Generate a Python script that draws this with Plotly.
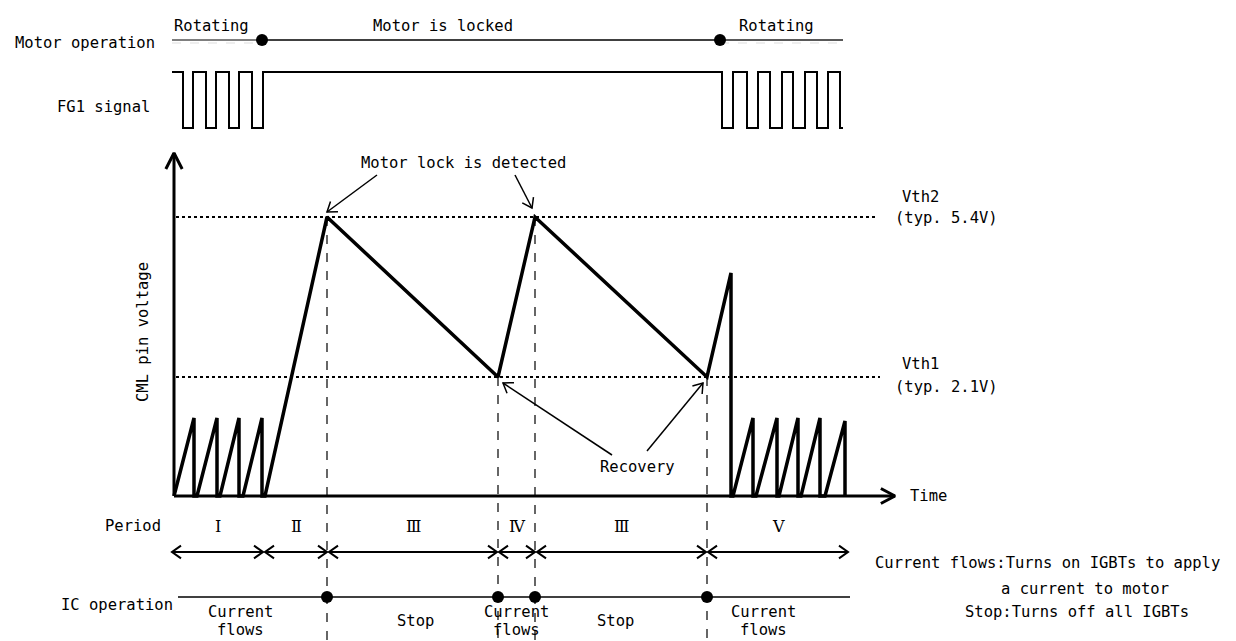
import numpy as np
import plotly.graph_objects as go

# ---------------- data (time units / level units, arbitrary, 1 unit ~ 1 px) ----------------
T_RANGE = [-174, 1062]
V_RANGE = [-145, 496]

# CML pin voltage waveform
cml_t = [0, 20, 20, 23, 43, 43, 46, 65, 65, 69, 88, 88, 91, 153, 324, 361, 533, 557, 557,
         559, 579, 579, 582, 603, 603, 605, 624, 624, 627, 646, 646, 651, 671, 671]
cml_v = [0, 78, 0, 0, 78, 0, 0, 78, 0, 0, 78, 0, 0, 279, 119, 279, 119, 223, 0,
         0, 78, 0, 0, 78, 0, 0, 78, 0, 0, 78, 0, 0, 75, 0]

VTH2 = 279
VTH1 = 119
vth_levels = [VTH2, VTH1]
vth_end_t = [701, 706]
vth_names = ["Vth2", "Vth1"]
vth_typ = ["(typ. 5.4V)", "(typ. 2.1V)"]

# FG1 signal edges (alternating high / low, hv steps)
fg_t = [-2, 9, 19, 32, 42, 55, 65, 78, 89, 548, 559, 573, 584, 596, 608, 619, 631, 643, 654, 666, 669]
fg_state = [1, 0, 1, 0, 1, 0, 1, 0, 1, 0, 1, 0, 1, 0, 1, 0, 1, 0, 1, 0, 0]
FG_HIGH = 424
FG_LOW = 368

# Motor operation row
MOTOR_V = 456
motor_seg_t = [-2, 88, 546, 669]
motor_labels = ["Rotating", "Motor is locked", "Rotating"]
motor_label_t = [-2, 269, 563]

# events (dashed lines & IC operation dots)
event_t = [153, 324, 361, 533]
event_v = [279, 119, 279, 119]

# Period row
period_bounds = [(-2, 89), (91, 153), (155, 323), (325, 361), (363, 532), (534, 674)]
period_labels = ["Ⅰ", "Ⅱ", "Ⅲ", "Ⅳ", "Ⅲ", "Ⅴ"]
PERIOD_TEXT_V = -30
PERIOD_ARROW_V = -56

# IC operation row
IC_V = -101
ic_line_t = [4, 676]
ic_labels = [["Current", "flows"], ["Stop"], ["Current", "flows"], ["Stop"], ["Current", "flows"]]
ic_label_t = [66, 241, 342, 441, 589]

FONT = "DejaVu Sans Mono, Liberation Mono, monospace"
FS = 15.5

fig = go.Figure()


def line(xs, ys, width=2, color="black", dash="solid", shape="linear"):
    fig.add_trace(go.Scatter(x=xs, y=ys, mode="lines", hoverinfo="skip",
                             line=dict(color=color, width=width, dash=dash, shape=shape)))


def chevron(tip, tail, L=10, ang=35):
    tip = np.array(tip, float)
    tail = np.array(tail, float)
    d = tail - tip
    d = d / np.linalg.norm(d)
    pts = []
    for s in (1, -1):
        a = np.radians(ang * s)
        r = np.array([[np.cos(a), -np.sin(a)], [np.sin(a), np.cos(a)]]) @ d
        pts.append(tip + L * r)
    return [pts[0][0], tip[0], pts[1][0]], [pts[0][1], tip[1], pts[1][1]]


def text(t, v, s, anchor="center", size=FS, family=FONT, angle=0, yanchor="middle"):
    fig.add_annotation(x=t, y=v, text=s, showarrow=False, xanchor=anchor, yanchor=yanchor,
                       textangle=angle, font=dict(family=family, size=size, color="black"))


# ---------------- Motor operation row ----------------
line(motor_seg_t[0:2], [MOTOR_V] * 2, width=1.5, color="#555")
line(motor_seg_t[0:2], [MOTOR_V - 3] * 2, width=1, color="#ddd", dash="dash")
line(motor_seg_t[1:3], [MOTOR_V] * 2, width=1.5)
line(motor_seg_t[2:4], [MOTOR_V] * 2, width=1.5, color="#222")
line(motor_seg_t[2:4], [MOTOR_V - 3] * 2, width=1, color="#ddd", dash="dash")
fig.add_trace(go.Scatter(x=motor_seg_t[1:3], y=[MOTOR_V] * 2, mode="markers", hoverinfo="skip",
                         marker=dict(color="black", size=12)))
for t, s, anc in zip(motor_label_t, motor_labels, ["left", "center", "left"]):
    text(t, MOTOR_V + 14, s, anchor=anc)
text(-17, MOTOR_V - 3, "Motor operation", anchor="right")

# ---------------- FG1 signal ----------------
fg_v = [FG_HIGH if s else FG_LOW for s in fg_state]
line(fg_t, fg_v, width=2, shape="hv")
text(-22, 389, "FG1 signal", anchor="right")

# ---------------- CML pin voltage ----------------
for lv, te in zip(vth_levels, vth_end_t):
    line([2, te], [lv, lv], width=2, dash="dot")
dx, dy = [], []
for t, v in zip(event_t, event_v):
    dx += [t, t, None]
    dy += [v, V_RANGE[0], None]
line(dx, dy, width=1.2, dash="dash")
# axes
line([0, 0], [0, 343], width=3)
cx, cy = chevron((0, 343), (0, 0), L=18, ang=27)
line(cx, cy, width=3)
line([0, 721], [0, 0], width=3)
cx, cy = chevron((721, 0), (0, 0), L=16, ang=28)
line(cx, cy, width=3)
# waveform
line(cml_t, cml_v, width=3.5)

text(734, 0, "Time", anchor="left")
text(-31, 164, "CML pin voltage", angle=-90)
text(726, VTH2 + 20, vth_names[0], anchor="left")
text(719, VTH2 - 1, vth_typ[0], anchor="left")
text(726, VTH1 + 13, vth_names[1], anchor="left")
text(719, VTH1 - 10, vth_typ[1], anchor="left")

# callouts
text(289, 333, "Motor lock is detected")
text(463, 29, "Recovery")
callouts = [((203, 321), (153, 284)), ((341, 321), (358, 288)),
            ((438, 41), (329, 113)), ((473, 45), (529, 113))]
for tail, tip in callouts:
    line([tail[0], tip[0]], [tail[1], tip[1]], width=1.5)
    cx, cy = chevron(tip, tail, L=11, ang=35)
    line(cx, cy, width=1.5)

# ---------------- Period row ----------------
text(-11, PERIOD_TEXT_V, "Period", anchor="right")
for (a, b), lab in zip(period_bounds, period_labels):
    text((a + b) / 2, PERIOD_TEXT_V, lab, family="DejaVu Serif, Liberation Serif, serif", size=16)
    line([a, b], [PERIOD_ARROW_V] * 2, width=2)
    for tip, tail in (((a, PERIOD_ARROW_V), (b, PERIOD_ARROW_V)), ((b, PERIOD_ARROW_V), (a, PERIOD_ARROW_V))):
        cx, cy = chevron(tip, tail, L=11, ang=35)
        line(cx, cy, width=2)

# ---------------- IC operation row ----------------
line(ic_line_t, [IC_V] * 2, width=1.5)
fig.add_trace(go.Scatter(x=event_t, y=[IC_V] * len(event_t), mode="markers", hoverinfo="skip",
                         marker=dict(color="black", size=12)))
text(1, IC_V - 8, "IC operation", anchor="right")
for t, labs in zip(ic_label_t, ic_labels):
    if len(labs) == 2:
        text(t, IC_V - 15, labs[0])
        text(t, IC_V - 33, labs[1])
    else:
        text(t, IC_V - 24, labs[0])

text(873, -67, "Current flows:Turns on IGBTs to apply")
text(911, -93, "a current to motor")
text(903, -116, "Stop:Turns off all IGBTs")

fig.update_layout(
    width=1236, height=641,
    margin=dict(l=0, r=0, t=0, b=0),
    paper_bgcolor="white", plot_bgcolor="white",
    showlegend=False,
    xaxis=dict(range=T_RANGE, visible=False, fixedrange=True),
    yaxis=dict(range=V_RANGE, visible=False, fixedrange=True),
)

fig.write_html("out.html", config={"displayModeBar": False},
               post_script="document.body.style.margin='0';document.body.style.overflow='hidden';")
